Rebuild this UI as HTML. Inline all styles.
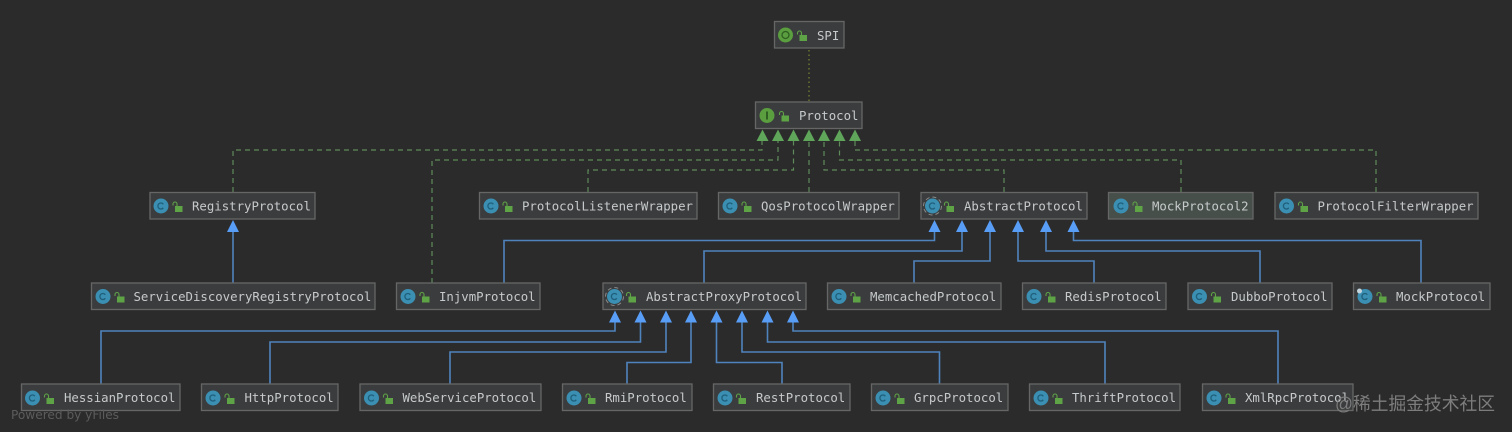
<!DOCTYPE html>
<html>
<head>
<meta charset="utf-8">
<style>
html,body{margin:0;padding:0;background:#2b2b2b;width:1512px;height:432px;overflow:hidden}
svg{display:block;filter:blur(0.35px)}
.b{fill:#3b3c3d;stroke:#666;stroke-width:1.3}
.t{font-family:"DejaVu Sans Mono","Liberation Mono",monospace;font-size:12.35px;fill:#c6cacc}
.c{fill:#3a8fb2}
.ci{fill:none;stroke:#1f5f7c;stroke-width:1.3}
.l{fill:#5fa347}
.lo{fill:none;stroke:#5fa347;stroke-width:1.1}
.bl{fill:none;stroke:#4f83bd;stroke-width:1.6}
.da{fill:none;stroke:#5f8a5a;stroke-width:1.2;stroke-dasharray:5 4}
.ab{fill:#589df6}
.ag{fill:#5fa55a}
</style>
</head>
<body>
<svg width="1512" height="432" viewBox="0 0 1512 432" xmlns="http://www.w3.org/2000/svg">
<defs>
<g id="lock"><rect x="2.500" y="4" width="7.500" height="6" class="l"/><path d="M0.500 3.500V2a2 2 0 0 1 4 0V4.500" class="lo"/></g>
<g id="ic"><circle cx="0" cy="0" r="7.500" class="c"/><path d="M2.300 -1.800A3 3 0 1 0 2.300 1.800" class="ci"/></g>
</defs>

<!-- dotted -->
<line x1="809" y1="50" x2="809" y2="101" stroke="#6f7f2f" stroke-width="1.3" stroke-dasharray="1.5 3"/>

<!-- dashed -->
<path class="da" d="M233 192V150H762V141"/>
<path class="da" d="M432 283V160H778V141"/>
<path class="da" d="M588 192V170H793.500V141"/>
<path class="da" d="M809 192V141"/>
<path class="da" d="M1004 192V170H824V141"/>
<path class="da" d="M1181 192V160H839.500V141"/>
<path class="da" d="M1376 192V150H855V141"/>
<g class="ag">
<path d="M762.500 129.500l6 11.500h-12z"/>
<path d="M778 129.500l6 11.500h-12z"/>
<path d="M793.500 129.500l6 11.500h-12z"/>
<path d="M809 129.500l6 11.500h-12z"/>
<path d="M824 129.500l6 11.500h-12z"/>
<path d="M839.500 129.500l6 11.500h-12z"/>
<path d="M855 129.500l6 11.500h-12z"/>
</g>

<!-- blue lines -->
<path class="bl" d="M233 283V232"/>
<path class="bl" d="M504 283V240.500H934.500V232"/>
<path class="bl" d="M704 283V251H962V232"/>
<path class="bl" d="M914 283V261H990V232"/>
<path class="bl" d="M1094 283V261H1018V232"/>
<path class="bl" d="M1260 283V251H1046V232"/>
<path class="bl" d="M1421 283V240.500H1073.500V232"/>
<path class="bl" d="M101 384V331H615V322"/>
<path class="bl" d="M270 384V342H640.500V322"/>
<path class="bl" d="M450 384V352H666V322"/>
<path class="bl" d="M627 384V362.500H691V322"/>
<path class="bl" d="M782 384V362.500H716.500V322"/>
<path class="bl" d="M939.500 384V352H742V322"/>
<path class="bl" d="M1105 384V342H767.500V322"/>
<path class="bl" d="M1278 384V331H793V322"/>
<g class="ab">
<path d="M233 220l6 12h-12z"/>
<path d="M934.500 220l6 12h-12z"/>
<path d="M962 220l6 12h-12z"/>
<path d="M990 220l6 12h-12z"/>
<path d="M1018 220l6 12h-12z"/>
<path d="M1046 220l6 12h-12z"/>
<path d="M1073.500 220l6 12h-12z"/>
<path d="M615 310.500l6 12h-12z"/>
<path d="M640.500 310.500l6 12h-12z"/>
<path d="M666 310.500l6 12h-12z"/>
<path d="M691 310.500l6 12h-12z"/>
<path d="M716.500 310.500l6 12h-12z"/>
<path d="M742 310.500l6 12h-12z"/>
<path d="M767.500 310.500l6 12h-12z"/>
<path d="M793 310.500l6 12h-12z"/>
</g>

<!-- SPI -->
<rect class="b" x="774.500" y="21.500" width="69.500" height="26.500"/>
<circle cx="785.500" cy="35" r="7.500" fill="#5a9e3f"/><circle cx="785.500" cy="35" r="3.500" fill="none" stroke="#2f5f22" stroke-width="1.300"/>
<use href="#lock" x="797" y="31"/>
<text class="t" x="817" y="40">SPI</text>

<!-- Protocol -->
<rect class="b" x="755.500" y="102" width="106.500" height="26.500"/>
<circle cx="767" cy="115.500" r="7.500" fill="#5a9e3f"/><rect x="766" y="111.500" width="2" height="8" fill="#2f5f22"/>
<use href="#lock" x="779" y="111.500"/>
<text class="t" x="799" y="120">Protocol</text>

<!-- Row 2 -->
<rect class="b" x="150" y="192.500" width="165" height="26.500"/>
<use href="#ic" x="161" y="206"/><use href="#lock" x="172.500" y="202"/>
<text class="t" x="192" y="210.500">RegistryProtocol</text>

<rect class="b" x="479.500" y="192.500" width="217.500" height="26.500"/>
<use href="#ic" x="491" y="206"/><use href="#lock" x="502.500" y="202"/>
<text class="t" x="522" y="210.500">ProtocolListenerWrapper</text>

<rect class="b" x="718.500" y="192.500" width="180.500" height="26.500"/>
<use href="#ic" x="730" y="206"/><use href="#lock" x="741.500" y="202"/>
<text class="t" x="761" y="210.500">QosProtocolWrapper</text>

<rect class="b" x="921" y="192.500" width="166" height="26.500"/>
<circle cx="932.500" cy="206" r="9" fill="none" stroke="#8a8a8a" stroke-width="1" stroke-dasharray="4 3"/>
<use href="#ic" x="932.500" y="206"/><use href="#lock" x="944" y="202"/>
<text class="t" x="964" y="210.500">AbstractProtocol</text>

<rect class="b" x="1108.500" y="192.500" width="144.500" height="26.500" style="fill:#464f49"/>
<use href="#ic" x="1121" y="206"/><use href="#lock" x="1132.500" y="202"/>
<text class="t" x="1152" y="210.500">MockProtocol2</text>

<rect class="b" x="1275" y="192.500" width="203" height="26.500"/>
<use href="#ic" x="1286.500" y="206"/><use href="#lock" x="1298" y="202"/>
<text class="t" x="1317.500" y="210.500">ProtocolFilterWrapper</text>

<!-- Row 3 -->
<rect class="b" x="91.500" y="283" width="283.500" height="26.500"/>
<use href="#ic" x="103" y="296.500"/><use href="#lock" x="114.500" y="292.500"/>
<text class="t" x="133.500" y="301">ServiceDiscoveryRegistryProtocol</text>

<rect class="b" x="396.500" y="283" width="143.500" height="26.500"/>
<use href="#ic" x="408" y="296.500"/><use href="#lock" x="419.500" y="292.500"/>
<text class="t" x="439" y="301">InjvmProtocol</text>

<rect class="b" x="603" y="283" width="203" height="26.500"/>
<circle cx="614.500" cy="296.500" r="9" fill="none" stroke="#8a8a8a" stroke-width="1" stroke-dasharray="4 3"/>
<use href="#ic" x="614.500" y="296.500"/><use href="#lock" x="626" y="292.500"/>
<text class="t" x="646" y="301">AbstractProxyProtocol</text>

<rect class="b" x="827.500" y="283" width="173.500" height="26.500"/>
<use href="#ic" x="839" y="296.500"/><use href="#lock" x="850.500" y="292.500"/>
<text class="t" x="870" y="301">MemcachedProtocol</text>

<rect class="b" x="1022.500" y="283" width="143.500" height="26.500"/>
<use href="#ic" x="1034" y="296.500"/><use href="#lock" x="1045.500" y="292.500"/>
<text class="t" x="1065" y="301">RedisProtocol</text>

<rect class="b" x="1188" y="283" width="144" height="26.500"/>
<use href="#ic" x="1199.500" y="296.500"/><use href="#lock" x="1211" y="292.500"/>
<text class="t" x="1231" y="301">DubboProtocol</text>

<rect class="b" x="1353.500" y="283" width="136.500" height="26.500"/>
<use href="#ic" x="1365" y="296.500"/><circle cx="1359.500" cy="291" r="2.500" fill="#c4d4dc"/><use href="#lock" x="1376.500" y="292.500"/>
<text class="t" x="1396" y="301">MockProtocol</text>

<!-- Row 4 -->
<rect class="b" x="21.500" y="384" width="158.500" height="26.500"/>
<use href="#ic" x="32.500" y="398"/><use href="#lock" x="44" y="394"/>
<text class="t" x="64" y="402">HessianProtocol</text>

<rect class="b" x="201.500" y="384" width="136.500" height="26.500"/>
<use href="#ic" x="213" y="398"/><use href="#lock" x="224.500" y="394"/>
<text class="t" x="244.500" y="402">HttpProtocol</text>

<rect class="b" x="360" y="384" width="181" height="26.500"/>
<use href="#ic" x="371.500" y="398"/><use href="#lock" x="383" y="394"/>
<text class="t" x="402.500" y="402">WebServiceProtocol</text>

<rect class="b" x="562.500" y="384" width="129.500" height="26.500"/>
<use href="#ic" x="574" y="398"/><use href="#lock" x="585.500" y="394"/>
<text class="t" x="605" y="402">RmiProtocol</text>

<rect class="b" x="713.500" y="384" width="136.500" height="26.500"/>
<use href="#ic" x="725" y="398"/><use href="#lock" x="736" y="394"/>
<text class="t" x="756" y="402">RestProtocol</text>

<rect class="b" x="871.500" y="384" width="136.500" height="26.500"/>
<use href="#ic" x="883" y="398"/><use href="#lock" x="894.500" y="394"/>
<text class="t" x="914" y="402">GrpcProtocol</text>

<rect class="b" x="1029.500" y="384" width="150.500" height="26.500"/>
<use href="#ic" x="1041" y="398"/><use href="#lock" x="1052.500" y="394"/>
<text class="t" x="1072" y="402">ThriftProtocol</text>

<rect class="b" x="1202.500" y="384" width="150.500" height="26.500"/>
<use href="#ic" x="1214" y="398"/><use href="#lock" x="1225.500" y="394"/>
<text class="t" x="1245" y="402">XmlRpcProtocol</text>

<!-- overlays -->
<text x="11" y="419" font-family="'DejaVu Sans',sans-serif" font-size="12" fill="#5c5c5c" textLength="108" lengthAdjust="spacingAndGlyphs">Powered by yFiles</text>
<text x="1335" y="410" font-family="'Liberation Sans','Noto Sans CJK SC',sans-serif" font-size="18" fill="#7d7d7d" textLength="160" lengthAdjust="spacingAndGlyphs">@稀土掘金技术社区</text>
</svg>
</body>
</html>
